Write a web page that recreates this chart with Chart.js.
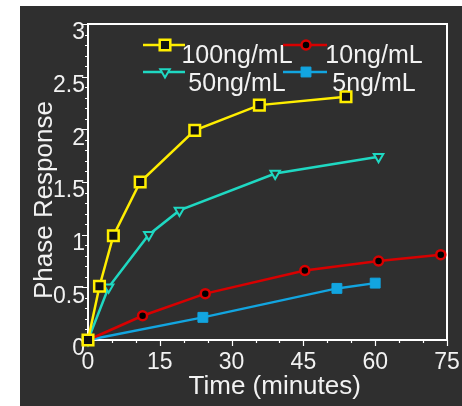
<!DOCTYPE html>
<html>
<head>
<meta charset="utf-8">
<script src="https://cdn.jsdelivr.net/npm/chart.js@4.4.1/dist/chart.umd.min.js"></script>
<style>
  html, body { margin: 0; padding: 0; background: #fff; }
  #wrap { position: absolute; left: 20px; top: 6px; width: 442px; height: 400px; background: #2f2f2f; }
  canvas { display: block; }
</style>
</head>
<body>
<div id="wrap"><canvas id="c" width="442" height="400"></canvas></div>
<script>
  // series: time (minutes) and phase response
  const names = ['100ng/mL', '50ng/mL', '10ng/mL', '5ng/mL'];
  const t100 = [0, 2.4, 5.3, 10.9, 22.3, 35.8, 53.9];
  const r100 = [0, 0.51, 0.99, 1.50, 1.99, 2.23, 2.31];
  const t50 = [0, 4.3, 12.7, 19.1, 39.1, 60.7];
  const r50 = [0, 0.50, 1.00, 1.23, 1.58, 1.74];
  const t10 = [0, 11.4, 24.5, 45.3, 60.7, 73.7];
  const r10 = [0, 0.23, 0.44, 0.66, 0.75, 0.81];
  const t5 = [0, 24.0, 52.0, 60.0];
  const r5 = [0, 0.215, 0.49, 0.54];
  const xTicks = [0, 15, 30, 45, 60, 75];
  const yTicks = [0, 0.5, 1, 1.5, 2, 2.5, 3];

  const FONT = '"Liberation Sans", Arial, sans-serif';
  const TXT = '#f2f2f2';
  const pts = (t, r) => t.map((v, i) => ({ x: v, y: r[i] }));

  const ds = [
    { label: names[0], data: pts(t100, r100), borderColor: '#ffee00', backgroundColor: '#111',
      pointStyle: 'rect', pointRadius: 7.5, pointBorderWidth: 2.5 },
    { label: names[1], data: pts(t50, r50), borderColor: '#1fd8c2', backgroundColor: '#2f2f2f',
      pointStyle: 'triangle', pointRotation: 180, pointRadius: 5.5, pointBorderWidth: 2 },
    { label: names[2], data: pts(t10, r10), borderColor: '#d80000', backgroundColor: '#000',
      pointStyle: 'circle', pointRadius: 4.5, pointBorderWidth: 2.5 },
    { label: names[3], data: pts(t5, r5), borderColor: '#12a5e0', backgroundColor: '#12a5e0',
      pointStyle: 'rect', pointRadius: 7, pointBorderWidth: 1 }
  ].map(d => Object.assign(d, { borderWidth: 2.5, tension: 0, clip: false, pointHoverRadius: d.pointRadius }));

  // box round the plot plus outward ticks (majors and minors)
  const frame = {
    id: 'frame',
    beforeDatasetsDraw(chart) {
      const { ctx, chartArea: a, scales: { x, y } } = chart;
      ctx.save();
      ctx.strokeStyle = '#fff';
      ctx.lineWidth = 1.2;
      ctx.beginPath();
      for (let v = x.min; v <= x.max + 1e-9; v += 5) {
        const px = Math.round(x.getPixelForValue(v)) + 0.5;
        const len = xTicks.includes(v) ? 6 : 3;
        ctx.moveTo(px, a.bottom); ctx.lineTo(px, a.bottom + len);
      }
      for (let i = 0; i <= 30; i++) {
        const py = Math.round(y.getPixelForValue(i / 10)) + 0.5;
        const len = i % 5 === 0 ? 6 : 3;
        ctx.moveTo(a.left, py); ctx.lineTo(a.left - len, py);
      }
      ctx.stroke();
      ctx.lineWidth = 2;
      ctx.strokeRect(a.left, a.top, a.width, a.height);
      ctx.restore();
    }
  };

  // two by two legend inside the top of the plot
  const legendBox = {
    id: 'legendBox',
    afterDatasetsDraw(chart) {
      const { ctx, chartArea: a } = chart;
      const cols = [{ l: 55, r: 97, m: 77, t: 149 }, { l: 195, r: 239, m: 218, t: 286 }];
      const rows = [{ line: 21, text: 39 }, { line: 48, text: 66.5 }];
      ctx.save();
      chart.data.datasets.forEach((d, i) => {
        const c = cols[Math.floor(i / 2)], r = rows[i % 2];
        const y0 = a.top + r.line, mx = a.left + c.m;
        ctx.strokeStyle = d.borderColor; ctx.lineWidth = 2.5;
        ctx.beginPath(); ctx.moveTo(a.left + c.l, y0); ctx.lineTo(a.left + c.r, y0); ctx.stroke();
        ctx.fillStyle = d.backgroundColor; ctx.lineWidth = d.pointBorderWidth;
        ctx.beginPath();
        if (d.pointStyle === 'rect') {
          const s = d.pointRadius * Math.SQRT1_2;
          ctx.rect(mx - s, y0 - s, 2 * s, 2 * s);
        } else if (d.pointStyle === 'circle') {
          ctx.arc(mx, y0, d.pointRadius, 0, Math.PI * 2);
        } else {
          const h = d.pointRadius;
          ctx.moveTo(mx - h * 0.87, y0 - h * 0.5); ctx.lineTo(mx + h * 0.87, y0 - h * 0.5);
          ctx.lineTo(mx, y0 + h); ctx.closePath();
        }
        ctx.fill(); ctx.stroke();
        ctx.fillStyle = TXT; ctx.font = '25px ' + FONT;
        ctx.textAlign = 'center'; ctx.textBaseline = 'alphabetic';
        ctx.fillText(d.label, a.left + c.t, a.top + r.text);
      });
      ctx.restore();
    }
  };

  new Chart(document.getElementById('c'), {
    type: 'line',
    data: { datasets: ds },
    options: {
      responsive: false,
      animation: false,
      devicePixelRatio: 1,
      layout: { padding: { left: 0, right: 15, top: 18, bottom: 0 } },
      plugins: { legend: { display: false }, tooltip: { enabled: false } },
      scales: {
        x: {
          type: 'linear', min: 0, max: 75,
          afterFit: s => { s.height = 66; s.paddingLeft = 0; s.paddingRight = 0; },
          afterBuildTicks: s => { s.ticks = xTicks.map(v => ({ value: v })); },
          grid: { display: false, drawTicks: false }, border: { display: false },
          ticks: { color: TXT, font: { family: FONT, size: 23 }, padding: 9, maxRotation: 0, callback: v => String(v) },
          title: { display: true, text: '  Time (minutes)', color: TXT, font: { family: FONT, size: 26 }, padding: { top: 0, bottom: 4 } }
        },
        y: {
          type: 'linear', min: 0, max: 3,
          afterFit: s => { s.width = 68; s.paddingTop = 0; s.paddingBottom = 0; },
          afterBuildTicks: s => { s.ticks = yTicks.map(v => ({ value: v })); },
          grid: { display: false, drawTicks: false }, border: { display: false },
          ticks: { color: TXT, font: { family: FONT, size: 23 }, padding: 3, labelOffset: 9, callback: v => String(v) },
          title: { display: true, text: 'Phase Response     ', color: TXT, font: { family: FONT, size: 26 }, padding: { top: 9, bottom: 0 } }
        }
      }
    },
    plugins: [frame, legendBox]
  });
</script>
</body>
</html>
